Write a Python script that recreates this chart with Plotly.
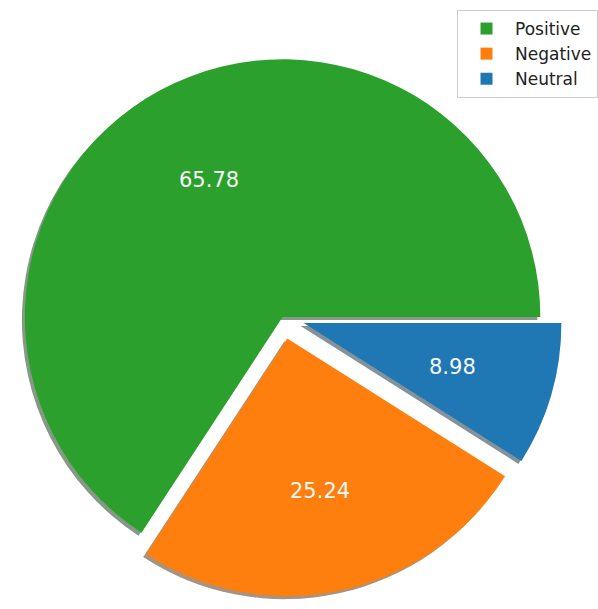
import math
import plotly.graph_objects as go

# Data
labels = ["Positive", "Negative", "Neutral"]
values = [65.78, 25.24, 8.98]
colors = ["#2ca02c", "#ff7f0e", "#1f77b4"]
shadow_colors = ["rgb(134,152,134)", "rgb(166,147,129)", "rgb(132,146,155)"]
pulls = [0, 0.085, 0.085]

W, H = 598, 609
box = 564          # pie box size in px
cx, cy = 285, 317  # pie centre in px (from top-left)
sh = 3             # shadow offset in px
r = box / (2 + 2 * max(pulls))   # plotly's pie radius

# first slice starts at 3 o'clock and runs counterclockwise (matplotlib style)
rotation = 90 - 360 * values[0] / sum(values)


def dom(cx_px, cy_px):
    return dict(
        x=[max(0, (cx_px - box / 2) / W), min(1, (cx_px + box / 2) / W)],
        y=[1 - (cy_px + box / 2) / H, 1 - (cy_px - box / 2) / H],
    )


fig = go.Figure()
fig.add_trace(go.Pie(
    labels=["s_" + l for l in labels], values=values, sort=False,
    direction="counterclockwise", rotation=rotation, pull=pulls,
    marker=dict(colors=shadow_colors, line=dict(width=0)),
    textinfo="none", hoverinfo="skip", showlegend=False,
    domain=dom(cx - sh, cy + sh),
))
fig.add_trace(go.Pie(
    labels=labels, values=values, sort=False,
    direction="counterclockwise", rotation=rotation, pull=pulls,
    marker=dict(colors=colors, line=dict(width=0)),
    textinfo="none",
    domain=dom(cx, cy),
))

# percentage labels at 0.6 radius along each slice's bisector (autopct style)
total = sum(values)
start = 0.0
for v, p in zip(values, pulls):
    mid = math.radians(start + 180 * v / total)
    start += 360 * v / total
    d = 0.6 * r + p * r
    x_px = cx + d * math.cos(mid)
    y_px = cy - d * math.sin(mid)
    fig.add_annotation(
        x=x_px / W, y=1 - y_px / H, xref="paper", yref="paper",
        xanchor="center", yanchor="middle",
        text=f"{v:.2f}", showarrow=False,
        font=dict(family="DejaVu Sans", size=21, color="#f8f8f8"),
    )

fig.update_layout(
    width=W, height=H, margin=dict(l=0, r=0, t=0, b=0),
    paper_bgcolor="white", plot_bgcolor="white",
    legend=dict(x=461 / W, y=1 - 10 / H, xanchor="left", yanchor="top",
                itemwidth=47,
                bordercolor="#cccccc", borderwidth=1, bgcolor="white",
                font=dict(family="DejaVu Sans", size=17, color="#222")),
)
fig.write_html("out.html", config={"displayModeBar": False},
               post_script="document.body.style.margin='0';")
